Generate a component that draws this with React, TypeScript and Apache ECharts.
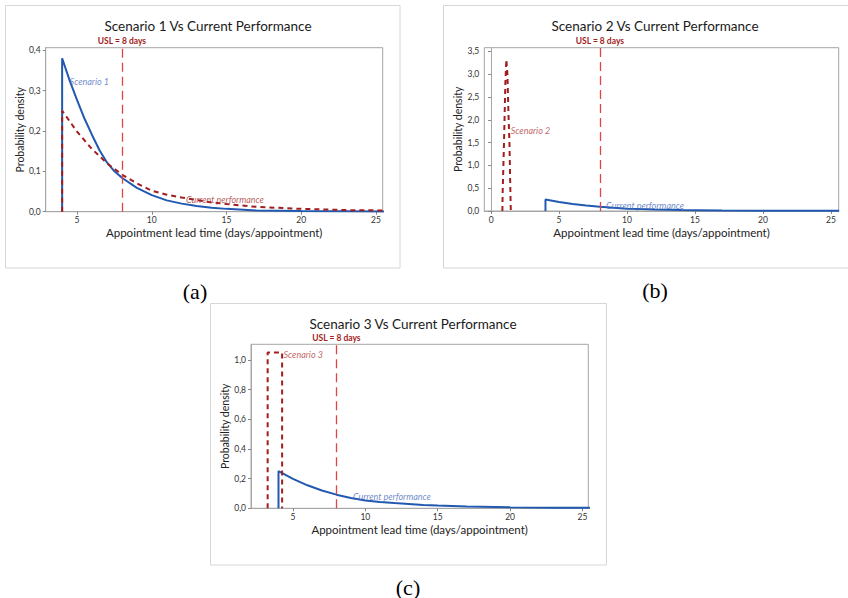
import React, { useEffect, useRef } from "react";
import * as echarts from "echarts";

// ---- tick labels ----
const xTicksAC = [5, 10, 15, 20, 25];
const xTicksB = [0, 5, 10, 15, 20, 25];
const yTicksA = [0, 0.1, 0.2, 0.3, 0.4];
const yTicksB = [0, 0.5, 1.0, 1.5, 2.0, 2.5, 3.0, 3.5];
const yTicksC = [0, 0.2, 0.4, 0.6, 0.8, 1.0];

// ---- series values ----
const currentX = [4, 4, 5, 6, 7, 8, 9, 10, 11, 12, 13, 14, 15, 17, 20, 23, 25.6];
const currentY = [0, 0.25, 0.198, 0.155, 0.12, 0.092, 0.07, 0.052, 0.042, 0.035, 0.029, 0.023, 0.019, 0.012, 0.007, 0.004, 0.003];

const scenario1X = [4, 4, 4.5, 5, 5.5, 6, 6.5, 7, 7.5, 8, 9, 10, 11, 12, 13, 14, 15, 17, 20, 25.6];
const scenario1Y = [0, 0.38, 0.325, 0.276, 0.23, 0.19, 0.152, 0.122, 0.1, 0.084, 0.059, 0.041, 0.028, 0.02, 0.014, 0.01, 0.007, 0.003, 0.0015, 0.0003];

const scenario2X = [0.83, 0.85, 0.95, 1.05, 1.12, 1.2, 1.28, 1.35, 1.42, 1.45];
const scenario2Y = [0, 0.4, 1.5, 2.8, 3.32, 3.0, 2.1, 1.5, 0.4, 0];

const scenario3X = [3.25, 3.25, 4.25, 4.25];
const scenario3Y = [0, 1.05, 1.05, 0];

const USL = 8;

const zip = (xs: number[], ys: number[]) => xs.map((x, i) => [x, ys[i]]);

const BLUE = "#2259b0";
const DARKRED = "#a21d1d";
const USLRED = "#e04444";
const FONT = "Lato";

const fmt = (v: number) => v.toFixed(1).replace(".", ",");

export default function App() {
  const ref = useRef<HTMLDivElement>(null);
  useEffect(() => {
    if (!ref.current) return;
    const chart = echarts.init(ref.current, undefined, { renderer: "svg" });

    const grids = [
      { left: 45.7, top: 47.7, width: 337, height: 164 },
      { left: 484.3, top: 47.7, width: 354.4, height: 163.3 },
      { left: 251, top: 344.3, width: 337.3, height: 164 },
    ].map((g) => ({ ...g, show: true, borderColor: "#a6a6a6", borderWidth: 1, backgroundColor: "#fff" }));

    const xRanges = [
      [2.9, 25.45, xTicksAC],
      [-0.5, 25.57, xTicksB],
      [2.1, 25.4, xTicksAC],
    ] as const;
    const yRanges = [
      [0, 0.406, yTicksA],
      [0, 3.58, yTicksB],
      [0, 1.106, yTicksC],
    ] as const;

    const xAxis = xRanges.map(([min, max, ticks], i) => ({
      type: "value",
      gridIndex: i,
      min,
      max,
      name: "Appointment lead time (days/appointment)",
      nameLocation: "middle",
      nameGap: 15,
      nameTextStyle: { fontFamily: FONT, fontSize: 11.5, color: "#222" },
      axisLine: { show: true, lineStyle: { color: "#a6a6a6" } },
      axisTick: { show: true, length: 3, customValues: ticks as any, lineStyle: { color: "#888" } },
      axisLabel: { customValues: ticks as any, fontFamily: FONT, fontSize: 8.5, color: "#333", margin: 4, showMinLabel: true, showMaxLabel: true },
      splitLine: { show: false },
    }));
    const yAxis = yRanges.map(([min, max, ticks], i) => ({
      type: "value",
      gridIndex: i,
      min,
      max,
      name: "Probability density",
      nameLocation: "middle",
      nameGap: 20,
      nameTextStyle: { fontFamily: FONT, fontSize: 10.5, color: "#222" },
      axisLine: { show: true, lineStyle: { color: "#a6a6a6" } },
      axisTick: { show: true, length: 3, customValues: ticks as any, lineStyle: { color: "#888" } },
      axisLabel: { customValues: ticks as any, fontFamily: FONT, fontSize: 8.5, color: "#333", margin: 5, formatter: (v: number) => fmt(v) },
      splitLine: { show: false },
    }));

    const uslMark = {
      symbol: "none",
      silent: true,
      data: [{ xAxis: USL }],
      lineStyle: { type: [9, 5], color: USLRED, width: 1.3 },
      label: { show: true, position: "end", formatter: "USL = 8 days", fontFamily: FONT, fontSize: 8.5, color: DARKRED, distance: 2, fontWeight: "bold" },
    };

    const line = (i: number, data: number[][], color: string, dashed: boolean, withUsl: boolean) => ({
      type: "line",
      xAxisIndex: i,
      yAxisIndex: i,
      data,
      showSymbol: false,
      symbol: "none",
      lineStyle: { color, width: 2, type: dashed ? [5, 4] : "solid" },
      z: dashed ? 3 : 2,
      markLine: withUsl ? uslMark : undefined,
    });

    const label = (i: number, x: number, y: number, text: string, color: string) => ({
      type: "scatter",
      xAxisIndex: i,
      yAxisIndex: i,
      data: [[x, y]],
      symbolSize: 0,
      silent: true,
      z: 5,
      label: {
        show: true,
        position: "right",
        distance: 0,
        formatter: text,
        fontFamily: FONT,
        fontSize: 9,
        fontStyle: "italic",
        color,
      },
    });

    const series = [
      // (a)
      line(0, zip(scenario1X, scenario1Y), BLUE, false, true),
      line(0, zip(currentX, currentY), DARKRED, true, false),
      label(0, 4.5, 0.323, "Scenario 1", "#4a6cc0"),
      label(0, 12.28, 0.031, "Current performance", "#a83232"),
      // (b)
      line(1, zip(currentX, currentY), BLUE, false, true),
      line(1, zip(scenario2X, scenario2Y), DARKRED, true, false),
      label(1, 1.45, 1.76, "Scenario 2", "#b03a3a"),
      label(1, 8.46, 0.13, "Current performance", "#4a6cc0"),
      // (c)
      line(2, zip(currentX, currentY), BLUE, false, true),
      line(2, zip(scenario3X, scenario3Y), DARKRED, true, false),
      label(2, 4.35, 1.034, "Scenario 3", "#b03a3a"),
      label(2, 9.14, 0.078, "Current performance", "#4a6cc0"),
    ];

    const titles = [
      { text: "Scenario 1 Vs Current Performance", left: 203, top: 14 },
      { text: "Scenario 2 Vs Current Performance", left: 650, top: 14 },
      { text: "Scenario 3 Vs Current Performance", left: 408, top: 312 },
    ].map((t) => ({
      text: t.text,
      left: t.left,
      top: t.top,
      textAlign: "center",
      textStyle: { fontFamily: FONT, fontSize: 13.5, fontWeight: "normal", color: "#1a1a1a" },
    }));

    const panel = (x: number, y: number, w: number, h: number) => ({
      type: "rect",
      shape: { x, y, width: w, height: h },
      style: { fill: "#fff", stroke: "#d6d6d6", lineWidth: 1 },
      z: -10,
      silent: true,
    });
    const caption = (x: number, y: number, text: string) => ({
      type: "text",
      x,
      y,
      style: { text, fontFamily: "Liberation Serif", fontSize: 22, fill: "#000", align: "center", verticalAlign: "middle" },
      silent: true,
    });

    chart.setOption({
      animation: false,
      backgroundColor: "#fff",
      title: titles,
      grid: grids,
      xAxis,
      yAxis,
      series,
      graphic: [
        panel(5.5, 5.5, 394.5, 262.5),
        panel(443.5, 5.5, 410, 262.5),
        panel(210.5, 303.5, 396, 261.5),
        caption(195, 291, "(a)"),
        caption(655, 290, "(b)"),
        caption(408, 587, "(c)"),
      ],
    } as any);

    return () => chart.dispose();
  }, []);

  return (
    <div
      ref={ref}
      style={{ position: "fixed", left: 0, top: 0, width: 848, height: 598, background: "#fff" }}
    />
  );
}
